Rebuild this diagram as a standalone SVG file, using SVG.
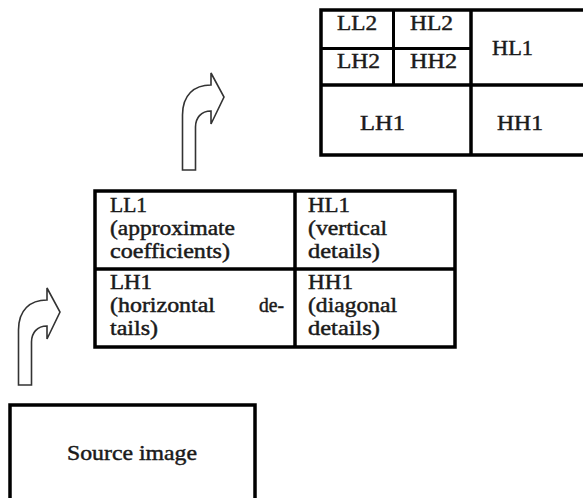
<svg xmlns="http://www.w3.org/2000/svg" width="583" height="498" viewBox="0 0 583 498">
<style>
.box{fill:#fff;stroke:#000;stroke-width:3.5}
.ln{stroke:#000;stroke-width:3.5;fill:none}
.ln2{stroke:#000;stroke-width:3;fill:none}
.t{font-family:'Liberation Serif','DejaVu Serif',serif;font-size:20px;fill:#1a1a1a;stroke:#1a1a1a;stroke-width:0.45}
.tb{font-family:'Liberation Serif','DejaVu Serif',serif;font-size:21px;fill:#1a1a1a;stroke:#1a1a1a;stroke-width:0.45}
.arrow{fill:#fff;stroke:#333;stroke-width:1.6;stroke-linejoin:miter}
</style>
<defs>
<path id="bent" d="M18.5,385 L18.5,330 C18.5,310 30,300 47,300 L47,288 L60,312 L47,339 L47,326 C37,326 31.5,333 31.5,342 L31.5,385 Z"/>
</defs>
<rect width="583" height="498" fill="#fff"/>
<g id="connectors">
<use href="#bent" class="arrow"/>
<use href="#bent" class="arrow" transform="translate(164,-215)"/>
</g>
<g id="source">
<rect class="box" x="10" y="405" width="245" height="110" stroke-width="4"/>
<text class="tb" x="67" y="460" textLength="130" lengthAdjust="spacingAndGlyphs">Source image</text>
</g>
<g id="level1">
<rect class="box" x="95" y="191" width="360" height="156"/>
<line class="ln" x1="295" y1="191" x2="295" y2="347"/>
<line class="ln" x1="95" y1="269" x2="455" y2="269"/>
<text class="t" x="110" y="212" textLength="37" lengthAdjust="spacingAndGlyphs">LL1</text>
<text class="t" x="110" y="235" textLength="125" lengthAdjust="spacingAndGlyphs">(approximate</text>
<text class="t" x="110" y="258" textLength="120" lengthAdjust="spacingAndGlyphs">coefficients)</text>
<text class="t" x="308" y="212" textLength="42" lengthAdjust="spacingAndGlyphs">HL1</text>
<text class="t" x="308" y="235" textLength="79" lengthAdjust="spacingAndGlyphs">(vertical</text>
<text class="t" x="308" y="258" textLength="72" lengthAdjust="spacingAndGlyphs">details)</text>
<text class="t" x="110" y="289" textLength="42" lengthAdjust="spacingAndGlyphs">LH1</text>
<text class="t" x="110" y="312" textLength="105" lengthAdjust="spacingAndGlyphs">(horizontal</text>
<text class="t" x="259" y="312" textLength="25" lengthAdjust="spacingAndGlyphs">de-</text>
<text class="t" x="110" y="335" textLength="48" lengthAdjust="spacingAndGlyphs">tails)</text>
<text class="t" x="308" y="289" textLength="45" lengthAdjust="spacingAndGlyphs">HH1</text>
<text class="t" x="308" y="312" textLength="89" lengthAdjust="spacingAndGlyphs">(diagonal</text>
<text class="t" x="308" y="335" textLength="72" lengthAdjust="spacingAndGlyphs">details)</text>
</g>
<g id="level2">
<rect class="box" x="321" y="10" width="272" height="145" stroke-width="4"/>
<line class="ln" x1="471" y1="10" x2="471" y2="155"/>
<line class="ln" x1="321" y1="85" x2="593" y2="85"/>
<line class="ln2" x1="393.5" y1="10" x2="393.5" y2="85"/>
<line class="ln2" x1="321" y1="48.5" x2="471" y2="48.5"/>
<text class="tb" x="337" y="30" textLength="40" lengthAdjust="spacingAndGlyphs">LL2</text>
<text class="tb" x="410" y="30" textLength="43" lengthAdjust="spacingAndGlyphs">HL2</text>
<text class="tb" x="337" y="68" textLength="43" lengthAdjust="spacingAndGlyphs">LH2</text>
<text class="tb" x="410" y="68" textLength="47" lengthAdjust="spacingAndGlyphs">HH2</text>
<text class="tb" x="492" y="55" textLength="41" lengthAdjust="spacingAndGlyphs">HL1</text>
<text class="tb" x="360" y="130" textLength="45" lengthAdjust="spacingAndGlyphs">LH1</text>
<text class="tb" x="497" y="130" textLength="46" lengthAdjust="spacingAndGlyphs">HH1</text>
</g>
</svg>
